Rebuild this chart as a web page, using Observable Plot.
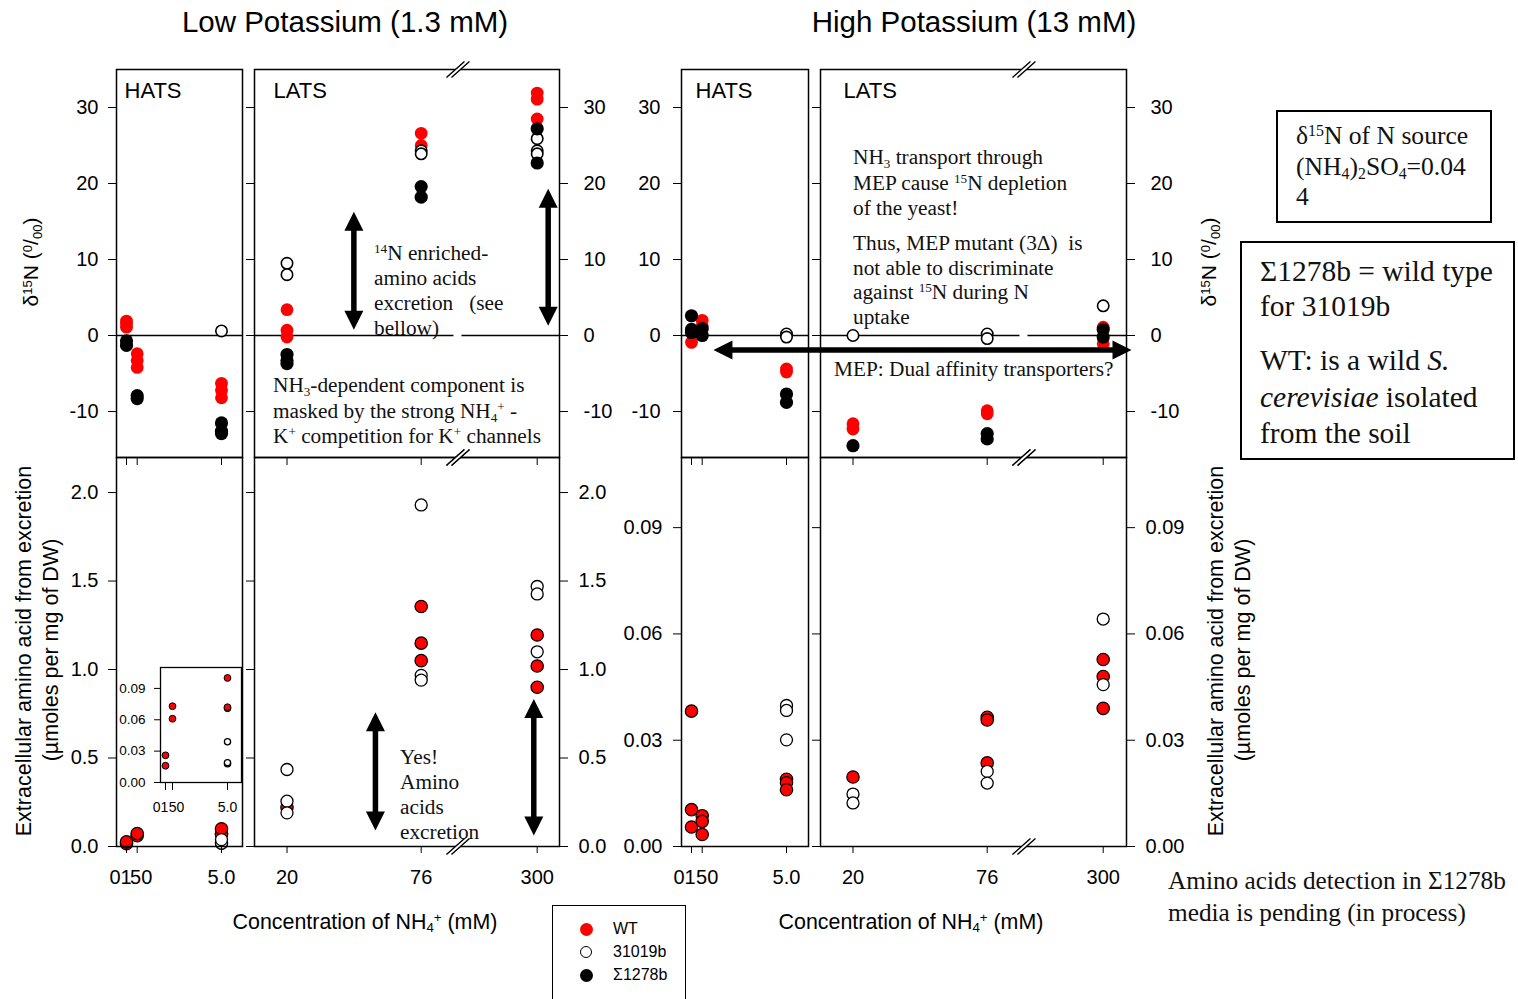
<!DOCTYPE html>
<html>
<head>
<meta charset="utf-8">
<script src="https://cdn.jsdelivr.net/npm/d3@7"></script>
<script src="https://cdn.jsdelivr.net/npm/@observablehq/plot@0.6"></script>
<style>
html,body{margin:0;padding:0;background:#fff;}
#fig{position:relative;width:1518px;height:999px;overflow:hidden;background:#fff;font-family:"Liberation Sans",Arial,sans-serif;color:#000;}
.t{position:absolute;white-space:pre;}
.serif{font-family:"Liberation Serif","Times New Roman",serif;color:#111;}
sup,sub{font-size:0.62em;line-height:0;}
sup{vertical-align:0.5em;}
sub{vertical-align:-0.28em;}
.rot{transform:translate(-50%,-50%) rotate(-90deg);}
.ctr{transform:translate(-50%,-50%);}
.box{position:absolute;border:2px solid #000;background:#fff;box-sizing:border-box;}
.mk{position:absolute;width:13px;height:13px;border-radius:50%;box-sizing:border-box;}
</style>
</head>
<body>
<div id="fig"></div>
<script>
// ---------------- data ----------------
const strains = ["WT", "31019b", "Σ1278b"];
const hatsConc = [0.1, 0.5, 5.0];
const hatsTickLabels = ["01", "50", "5.0"];
const latsConc = [20, 76, 300];
const latsTickLabels = ["20", "76", "300"];
const d15Ticks = [30, 20, 10, 0, -10];
const aaLowTicks = [2.0, 1.5, 1.0, 0.5, 0.0];
const aaHighTicks = [0.09, 0.06, 0.03, 0.00];
const insetTicks = [0.09, 0.06, 0.03, 0.00];

// δ15N (‰) : [NH4+ mM, strain, value]
const d15LowHats = [
  [0.1,"WT",1.9],[0.1,"WT",1.5],[0.1,"WT",1.1],[0.1,"Σ1278b",-0.7],[0.1,"Σ1278b",-1.3],
  [0.5,"WT",-2.4],[0.5,"WT",-3.3],[0.5,"WT",-4.2],[0.5,"Σ1278b",-7.9],[0.5,"Σ1278b",-8.3],
  [5,"31019b",0.6],[5,"WT",-6.3],[5,"WT",-7.2],[5,"WT",-8.2],[5,"Σ1278b",-11.5],[5,"Σ1278b",-12.6],[5,"Σ1278b",-12.9]
];
const d15LowLats = [
  [20,"31019b",9.5],[20,"31019b",8.0],[20,"WT",3.4],[20,"WT",0.7],[20,"WT",-0.2],[20,"Σ1278b",-2.5],[20,"Σ1278b",-3.3],[20,"Σ1278b",-3.7],
  [76,"WT",26.6],[76,"WT",25.0],[76,"31019b",24.3],[76,"31019b",23.9],[76,"Σ1278b",19.6],[76,"Σ1278b",18.2],
  [300,"WT",31.9],[300,"WT",31.1],[300,"WT",28.5],[300,"31019b",25.9],[300,"31019b",24.3],[300,"31019b",23.9],[300,"Σ1278b",27.2],[300,"Σ1278b",22.7]
];
const d15HighHats = [
  [0.1,"WT",0.5],[0.1,"WT",-0.9],[0.1,"Σ1278b",2.6],[0.1,"Σ1278b",0.8],[0.1,"Σ1278b",0.4],
  [0.5,"WT",2.0],[0.5,"WT",1.2],[0.5,"Σ1278b",0.9],[0.5,"Σ1278b",0.0],
  [5,"31019b",0.2],[5,"31019b",-0.2],[5,"WT",-4.4],[5,"WT",-4.8],[5,"Σ1278b",-7.7],[5,"Σ1278b",-8.8]
];
const d15HighLats = [
  [20,"31019b",0.0],[20,"WT",-11.6],[20,"WT",-12.3],[20,"Σ1278b",-14.5],
  [76,"31019b",0.2],[76,"31019b",-0.4],[76,"WT",-9.9],[76,"WT",-10.3],[76,"Σ1278b",-12.9],[76,"Σ1278b",-13.6],
  [300,"31019b",3.9],[300,"WT",1.1],[300,"WT",-1.1],[300,"Σ1278b",0.8],[300,"Σ1278b",-0.2]
];

// extracellular amino acids (µmol / mg DW) : [NH4+ mM, strain, value]
const aaLowHats = [
  [0.1,"WT",0.016],[0.1,"WT",0.026],[0.5,"WT",0.061],[0.5,"WT",0.073],
  [5,"WT",0.071],[5,"WT",0.072],[5,"WT",0.100],[5,"31019b",0.018],[5,"31019b",0.019],[5,"31019b",0.039]
];
const aaLowLats = [
  [20,"WT",0.22],[20,"31019b",0.435],[20,"31019b",0.256],[20,"31019b",0.19],
  [76,"WT",1.356],[76,"WT",1.149],[76,"WT",1.05],[76,"31019b",1.93],[76,"31019b",0.967],[76,"31019b",0.94],
  [300,"WT",1.195],[300,"WT",1.02],[300,"WT",0.90],[300,"31019b",1.469],[300,"31019b",1.427],[300,"31019b",1.10]
];
const aaHighHats = [
  [0.1,"WT",0.0382],[0.1,"WT",0.0104],[0.1,"WT",0.0055],
  [0.5,"WT",0.0087],[0.5,"WT",0.0071],[0.5,"WT",0.0034],
  [5,"WT",0.019],[5,"WT",0.018],[5,"WT",0.016],[5,"31019b",0.0398],[5,"31019b",0.0384],[5,"31019b",0.0301]
];
const aaHighLats = [
  [20,"WT",0.0196],[20,"31019b",0.0148],[20,"31019b",0.0123],
  [76,"WT",0.0365],[76,"WT",0.0357],[76,"WT",0.0236],[76,"31019b",0.0212],[76,"31019b",0.0179],
  [300,"WT",0.0528],[300,"WT",0.048],[300,"WT",0.039],[300,"31019b",0.0642],[300,"31019b",0.0457]
];

// annotation anchors (data units)
const latsBreak = 146;
const d15ArrowsLow = [{x: 47.9, top: 16.3, bottom: 0.75}, {x: 321.2, top: 19.3, bottom: 1.3}];
const aaArrowsLow = [{x: 56.9, top: 0.759, bottom: 0.09}, {x: 293.4, top: 0.834, bottom: 0.062}];
const mepArrowHats = [{y: -1.9, from: 1.1, to: 6.82}];
const mepArrowLats = [{y: -1.9, from: 6.44, to: 354.6}];

// ---------------- drawing ----------------
const fig = document.getElementById("fig");
const SANS = "'Liberation Sans', Arial, sans-serif";
const hatsRange = [10, 20.7, 105];
const latsRange = [32.5, 166.7, 282.7];
const TOPROW = {top: 69, height: 388, domain: [-16.05, 35]};
const BOTROW = {top: 457, height: 389};

function makePlot({left, top, width, height, xDomain, xRange, yDomain, marks, background = "transparent"}) {
  const svg = Plot.plot({
    width, height, marginTop: 0, marginRight: 0, marginBottom: 0, marginLeft: 0,
    x: {type: "linear", domain: xDomain, range: xRange},
    y: {type: "linear", domain: yDomain, range: [height, 0]},
    style: {background, overflow: "visible", color: "black", fontFamily: SANS, fontSize: "20px"},
    marks
  });
  svg.style.position = "absolute";
  svg.style.left = left + "px";
  svg.style.top = top + "px";
  fig.appendChild(svg);
}

const topStyle = {
  "WT": {fill: "#ff0000", stroke: "none", r: 6.4},
  "31019b": {fill: "white", stroke: "black", strokeWidth: 1.6, r: 5.7},
  "Σ1278b": {fill: "black", stroke: "none", r: 6.6}
};
const botStyle = {
  "WT": {fill: "#ff0000", stroke: "black", strokeWidth: 1.2, r: 6.2},
  "31019b": {fill: "white", stroke: "black", strokeWidth: 1.3, r: 6.0}
};
const insetStyle = {
  "WT": {fill: "#ff0000", stroke: "black", strokeWidth: 1, r: 3.4},
  "31019b": {fill: "white", stroke: "black", strokeWidth: 1.3, r: 3.1}
};
function pts(rows, styles) {
  return strains.filter(s => styles[s]).map(s =>
    Plot.dot(rows.filter(r => r[1] === s), {x: r => r[0], y: r => r[2], ...styles[s]}));
}

// custom symbols
const head = {draw(c) { c.moveTo(0, 0); c.lineTo(9.5, 19); c.lineTo(-9.5, 19); c.closePath(); }};
const breakWhite = {draw(c) { c.moveTo(-11, 8); c.lineTo(7, -8); c.lineTo(12, -8); c.lineTo(-6, 8); c.closePath(); }};
const breakLines = {draw(c) { c.moveTo(-11, 8); c.lineTo(7, -8); c.moveTo(-6, 8); c.lineTo(12, -8); }};
const gapRect = {draw(c) { c.rect(-4, -2, 8, 4); }};

function breakMarks(anchors) {
  return anchors.flatMap(a => [
    Plot.dot([latsBreak], {x: d => d, frameAnchor: a, symbol: breakWhite, fill: "white", stroke: "none"}),
    Plot.dot([latsBreak], {x: d => d, frameAnchor: a, symbol: breakLines, fill: "none", stroke: "black", strokeWidth: 1.4})
  ]);
}
function vArrows(list) {
  return [
    Plot.ruleX(list, {x: "x", y1: "top", y2: "bottom", stroke: "black", strokeWidth: 5.5, insetTop: 12, insetBottom: 12}),
    Plot.dot(list, {x: "x", y: "top", symbol: head, fill: "black", stroke: "none"}),
    Plot.dot(list, {x: "x", y: "bottom", symbol: head, rotate: 180, fill: "black", stroke: "none"})
  ];
}
function panelLabel(text, dx) {
  return Plot.text([text], {text: d => d, frameAnchor: "top-left", dx, dy: 21, lineAnchor: "middle", textAnchor: "start", fontSize: 22, fill: "black"});
}
const frame = () => Plot.frame({stroke: "black", strokeWidth: 1.5});
const fmtInt = d => String(d);
const yLeft = (ticks, fmt, pad) => Plot.axisY({anchor: "left", ticks, tickSize: 8, tickPadding: pad, tickFormat: fmt, fontSize: 20, label: null});
const yLeftBare = (ticks) => Plot.axisY({anchor: "left", ticks, tickSize: 8, tickFormat: () => "", label: null});
const yRight = (ticks, fmt, pad) => Plot.axisY({anchor: "right", ticks, tickSize: 8, tickPadding: pad, tickFormat: fmt, fontSize: 20, label: null});
const xTicks = (ticks, size) => Plot.axisX({anchor: "bottom", ticks, tickSize: size, tickFormat: () => "", label: null});
function hatsLabels(dy, fontSize, dxs) {
  return hatsConc.map((c, i) => Plot.text([c], {x: d => d, text: () => hatsTickLabels[i], frameAnchor: "bottom", lineAnchor: "middle", dy, dx: dxs[i], fontSize, fill: "black"}));
}
const latsLabels = () => Plot.text(latsConc, {x: d => d, text: (d, i) => latsTickLabels[i], frameAnchor: "bottom", lineAnchor: "middle", dy: 31, fontSize: 20, fill: "black"});

const zeroLine = () => Plot.ruleY([0], {stroke: "black", strokeWidth: 1.3});
const zeroGap = () => Plot.dot([latsBreak], {x: d => d, y: () => 0, symbol: gapRect, fill: "white", stroke: "none"});

// ---- Low K, HATS ----
makePlot({left: 116, top: TOPROW.top, width: 126, height: TOPROW.height, xDomain: hatsConc, xRange: hatsRange, yDomain: TOPROW.domain, marks: [
  zeroLine(), ...pts(d15LowHats, topStyle), frame(),
  yLeft(d15Ticks, fmtInt, 10), xTicks(hatsConc, 8), panelLabel("HATS", 8)
]});
makePlot({left: 116, top: BOTROW.top, width: 126, height: BOTROW.height, xDomain: hatsConc, xRange: hatsRange, yDomain: [0, 2.198], marks: [
  ...pts(aaLowHats, botStyle), frame(),
  yLeft(aaLowTicks, d3.format(".1f"), 10), xTicks(hatsConc, 7), ...hatsLabels(31, 20, [-6, 4, 0])
]});
// inset
makePlot({left: 160, top: 667, width: 81, height: 115, xDomain: hatsConc, xRange: [5, 12, 67], yDomain: [0, 0.11], background: "white", marks: [
  ...pts(aaLowHats, insetStyle), Plot.frame({stroke: "black", strokeWidth: 1.3}),
  Plot.axisY({anchor: "left", ticks: insetTicks, tickSize: 6, tickPadding: 9, tickFormat: d3.format(".2f"), fontSize: 13.5, label: null}),
  xTicks(hatsConc, 8), ...hatsLabels(25, 14, [-5, 4, 0])
]});

// ---- Low K, LATS ----
makePlot({left: 254, top: TOPROW.top, width: 305, height: TOPROW.height, xDomain: latsConc, xRange: latsRange, yDomain: TOPROW.domain, marks: [
  zeroLine(), zeroGap(), ...pts(d15LowLats, topStyle), frame(),
  yLeftBare(d15Ticks), yRight(d15Ticks, fmtInt, 16), xTicks(latsConc, 8), panelLabel("LATS", 19),
  ...breakMarks(["top", "bottom"]), ...vArrows(d15ArrowsLow)
]});
makePlot({left: 254, top: BOTROW.top, width: 305, height: BOTROW.height, xDomain: latsConc, xRange: latsRange, yDomain: [0, 2.198], marks: [
  ...pts(aaLowLats, botStyle), frame(),
  yLeftBare(aaLowTicks), yRight(aaLowTicks, d3.format(".1f"), 11), xTicks(latsConc, 7), latsLabels(),
  ...breakMarks(["top", "bottom"]), ...vArrows(aaArrowsLow)
]});

// ---- High K, HATS ----
makePlot({left: 681, top: TOPROW.top, width: 127, height: TOPROW.height, xDomain: hatsConc, xRange: hatsRange, yDomain: TOPROW.domain, marks: [
  zeroLine(), ...pts(d15HighHats, topStyle), frame(),
  yLeft(d15Ticks, fmtInt, 13), xTicks(hatsConc, 8), panelLabel("HATS", 14),
  Plot.ruleY(mepArrowHats, {y: "y", x1: "from", x2: "to", stroke: "black", strokeWidth: 5.5, insetLeft: 12}),
  Plot.dot(mepArrowHats, {x: "from", y: "y", symbol: head, rotate: -90, fill: "black", stroke: "none"})
]});
makePlot({left: 681, top: BOTROW.top, width: 127, height: BOTROW.height, xDomain: hatsConc, xRange: hatsRange, yDomain: [0, 0.1098], marks: [
  ...pts(aaHighHats, botStyle), frame(),
  yLeft(aaHighTicks, d3.format(".2f"), 11), xTicks(hatsConc, 7), ...hatsLabels(31, 20, [-7, 5, 0])
]});

// ---- High K, LATS ----
makePlot({left: 820, top: TOPROW.top, width: 306, height: TOPROW.height, xDomain: latsConc, xRange: latsRange, yDomain: TOPROW.domain, marks: [
  zeroLine(), zeroGap(), ...pts(d15HighLats, topStyle), frame(),
  yLeftBare(d15Ticks), yRight(d15Ticks, fmtInt, 16), xTicks(latsConc, 8), panelLabel("LATS", 23),
  ...breakMarks(["top", "bottom"]),
  Plot.ruleY(mepArrowLats, {y: "y", x1: "from", x2: "to", stroke: "black", strokeWidth: 5.5, insetRight: 12}),
  Plot.dot(mepArrowLats, {x: "to", y: "y", symbol: head, rotate: 90, fill: "black", stroke: "none"})
]});
makePlot({left: 820, top: BOTROW.top, width: 306, height: BOTROW.height, xDomain: latsConc, xRange: latsRange, yDomain: [0, 0.1098], marks: [
  ...pts(aaHighLats, botStyle), frame(),
  yLeftBare(aaHighTicks), yRight(aaHighTicks, d3.format(".2f"), 11), xTicks(latsConc, 7), latsLabels(),
  ...breakMarks(["top", "bottom"])
]});

// ---------------- text, titles, legend ----------------
const d15Title = 'δ<sup>15</sup>N (<sup>0</sup>/<sub>00</sub>)';
const nh4Title = 'Concentration of NH<sub>4</sub><sup>+</sup> (mM)';
fig.insertAdjacentHTML("beforeend", `
<div class="t ctr" style="left:345px;top:22px;font-size:29.5px">Low Potassium (1.3 mM)</div>
<div class="t ctr" style="left:974px;top:22px;font-size:29.5px">High Potassium (13 mM)</div>
<div class="t rot" style="left:31px;top:262px;font-size:21px">${d15Title}</div>
<div class="t rot" style="left:1209px;top:262px;font-size:21px">${d15Title}</div>
<div class="t rot" style="left:24px;top:651px;font-size:21.5px">Extracellular amino acid from excretion</div>
<div class="t rot" style="left:51px;top:650px;font-size:21.5px">(µmoles per mg of DW)</div>
<div class="t rot" style="left:1216px;top:651px;font-size:21.5px">Extracellular amino acid from excretion</div>
<div class="t rot" style="left:1243px;top:650px;font-size:21.5px">(µmoles per mg of DW)</div>
<div class="t ctr" style="left:365px;top:922px;font-size:21.4px">${nh4Title}</div>
<div class="t ctr" style="left:911px;top:922px;font-size:21.4px">${nh4Title}</div>

<div class="t serif" style="left:374px;top:241px;font-size:21.3px;line-height:25px"><sup>14</sup>N enriched-<br>amino acids<br>excretion   (see<br>bellow)</div>
<div class="t serif" style="left:273px;top:373px;font-size:21.3px;line-height:25.5px">NH<sub>3</sub>-dependent component is<br>masked by the strong NH<sub>4</sub><sup>+</sup> -<br>K<sup>+</sup> competition for K<sup>+</sup> channels</div>
<div class="t serif" style="left:853px;top:145px;font-size:21.3px;line-height:25.5px">NH<sub>3</sub> transport through<br>MEP cause <sup>15</sup>N depletion<br>of the yeast!</div>
<div class="t serif" style="left:853px;top:231px;font-size:21.3px;line-height:24.7px">Thus, MEP mutant (3Δ)  is<br>not able to discriminate<br>against <sup>15</sup>N during N<br>uptake</div>
<div class="t serif" style="left:834px;top:357px;font-size:21.3px;line-height:25px">MEP: Dual affinity transporters?</div>
<div class="t serif" style="left:400px;top:745px;font-size:21.3px;line-height:25px">Yes!<br>Amino<br>acids<br>excretion</div>

<div class="box" style="left:1276px;top:110px;width:216px;height:113px"></div>
<div class="t serif" style="left:1296px;top:121px;font-size:25.6px;line-height:30.5px">δ<sup>15</sup>N of N source<br>(NH<sub>4</sub>)<sub>2</sub>SO<sub>4</sub>=0.04<br>4</div>
<div class="box" style="left:1240px;top:241px;width:275px;height:219px"></div>
<div class="t serif" style="left:1260px;top:254px;font-size:29.5px;line-height:35px">Σ1278b = wild type<br>for 31019b</div>
<div class="t serif" style="left:1260px;top:342px;font-size:29.5px;line-height:36.5px">WT: is a wild <i>S.</i><br><i>cerevisiae</i> isolated<br>from the soil</div>
<div class="t serif" style="left:1168px;top:864px;font-size:25.3px;line-height:32px">Amino acids detection in Σ1278b<br>media is pending (in process)</div>

<div class="box" style="left:552px;top:905px;width:134px;height:110px;border-width:1.5px"></div>
<div class="mk" style="left:579.5px;top:922.5px;background:#ff0000"></div>
<div class="mk" style="left:580px;top:946px;width:12px;height:12px;background:#fff;border:1.5px solid #000"></div>
<div class="mk" style="left:579.5px;top:968.5px;background:#000"></div>
<div class="t" style="left:613px;top:920px;font-size:16px;line-height:18px">WT</div>
<div class="t" style="left:613px;top:943px;font-size:16px;line-height:18px">31019b</div>
<div class="t" style="left:613px;top:966px;font-size:16px;line-height:18px">Σ1278b</div>
`);
</script>
</body>
</html>
